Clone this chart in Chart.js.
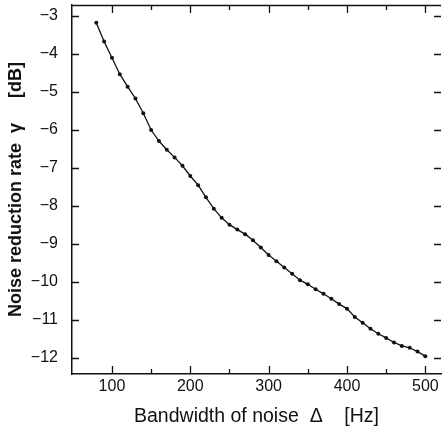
<!DOCTYPE html>
<html>
<head>
<meta charset="utf-8">
<script src="https://cdn.jsdelivr.net/npm/chart.js@4"></script>
<style>
  html, body { margin: 0; padding: 0; background: #fff; }
  #wrap { width: 447px; height: 428px; }
</style>
</head>
<body>
<div id="wrap"><canvas id="chart" width="447" height="428"></canvas></div>
<script>
// -------------------------------
// DONNEES
// -------------------------------
const bandwidth = [80, 90, 100, 110, 120, 130, 140, 150, 160, 170, 180, 190, 200, 210, 220,
  230, 240, 250, 260, 270, 280, 290, 300, 310, 320, 330, 340, 350, 360, 370, 380, 390, 400,
  410, 420, 430, 440, 450, 460, 470, 480, 490, 500];
const reduction = [-3.18, -3.67, -4.10, -4.53, -4.86, -5.17, -5.56, -6.00, -6.29, -6.52,
  -6.72, -6.94, -7.21, -7.45, -7.77, -8.07, -8.31, -8.49, -8.62, -8.74, -8.90, -9.09, -9.29,
  -9.45, -9.62, -9.78, -9.95, -10.06, -10.19, -10.31, -10.44, -10.58, -10.70, -10.92, -11.07,
  -11.23, -11.36, -11.47, -11.59, -11.68, -11.73, -11.83, -11.95];
const xTicks = [100, 200, 300, 400, 500];
const xMinorTicks = [150, 250, 350, 450];
const yTicks = [-3, -4, -5, -6, -7, -8, -9, -10, -11, -12];

const font = "'Liberation Sans', Arial, sans-serif";

// ticks vers l'intérieur, dessinés avec les échelles du graphique
const innerTicks = {
  id: 'innerTicks',
  afterDraw(chart) {
    const { ctx, chartArea: a, scales } = chart;
    ctx.save();
    ctx.strokeStyle = '#111';
    ctx.lineWidth = 1.3;
    ctx.beginPath();
    // bord du haut
    ctx.moveTo(a.left, a.top + 0.5);
    ctx.lineTo(a.right, a.top + 0.5);
    yTicks.forEach(v => {
      const y = Math.round(scales.y.getPixelForValue(v)) + 0.5;
      ctx.moveTo(a.left, y); ctx.lineTo(a.left + 7, y);
      ctx.moveTo(a.right, y); ctx.lineTo(a.right - 7, y);
    });
    xTicks.forEach(v => {
      const x = Math.round(scales.x.getPixelForValue(v)) + 0.5;
      ctx.moveTo(x, a.bottom); ctx.lineTo(x, a.bottom - 8);
      ctx.moveTo(x, a.top); ctx.lineTo(x, a.top + 8);
    });
    xMinorTicks.forEach(v => {
      const x = Math.round(scales.x.getPixelForValue(v)) + 0.5;
      ctx.moveTo(x, a.bottom); ctx.lineTo(x, a.bottom - 5);
      ctx.moveTo(x, a.top); ctx.lineTo(x, a.top + 5);
    });
    ctx.stroke();
    ctx.restore();
  }
};

new Chart(document.getElementById('chart'), {
  type: 'line',
  data: {
    datasets: [{
      data: bandwidth.map((b, i) => ({ x: b, y: reduction[i] })),
      borderColor: '#111',
      backgroundColor: '#111',
      borderWidth: 1.3,
      pointRadius: 2,
      pointBorderWidth: 0,
      tension: 0
    }]
  },
  options: {
    responsive: false,
    animation: false,
    layout: { padding: { left: 0, top: 5, right: 6, bottom: 0 } },
    plugins: { legend: { display: false }, tooltip: { enabled: false } },
    scales: {
      x: {
        type: 'linear',
        min: 49,
        max: 520,
        afterFit: s => { s.height = 54; s.paddingLeft = 0; s.paddingRight = 0; },
        afterBuildTicks: s => { s.ticks = xTicks.map(v => ({ value: v })); },
        grid: { display: false, drawTicks: false },
        border: { display: true, color: '#111', width: 1.5 },
        ticks: {
          color: '#111',
          padding: 3,
          font: { family: font, size: 16 },
          maxRotation: 0
        },
        title: {
          display: true,
          text: 'Bandwidth of noise  Δ    [Hz]',
          color: '#111',
          font: { family: font, size: 19.5 },
          padding: { top: 4, bottom: 0 }
        }
      },
      y: {
        type: 'linear',
        min: -12.42,
        max: -2.71,
        afterFit: s => { s.width = 72; s.paddingTop = 0; s.paddingBottom = 0; },
        afterBuildTicks: s => { s.ticks = yTicks.map(v => ({ value: v })); },
        grid: { display: false, drawTicks: false },
        border: { display: true, color: '#111', width: 1.5 },
        ticks: {
          color: '#111',
          padding: 14,
          font: { family: font, size: 16 },
          callback: v => String(v).replace('-', '\u2212')
        },
        title: {
          display: true,
          text: 'Noise reduction rate  γ     [dB]',
          color: '#111',
          font: { family: font, size: 18, weight: 'bold' },
          padding: { top: 5, bottom: 0 }
        }
      }
    }
  },
  plugins: [innerTicks]
});
</script>
</body>
</html>
